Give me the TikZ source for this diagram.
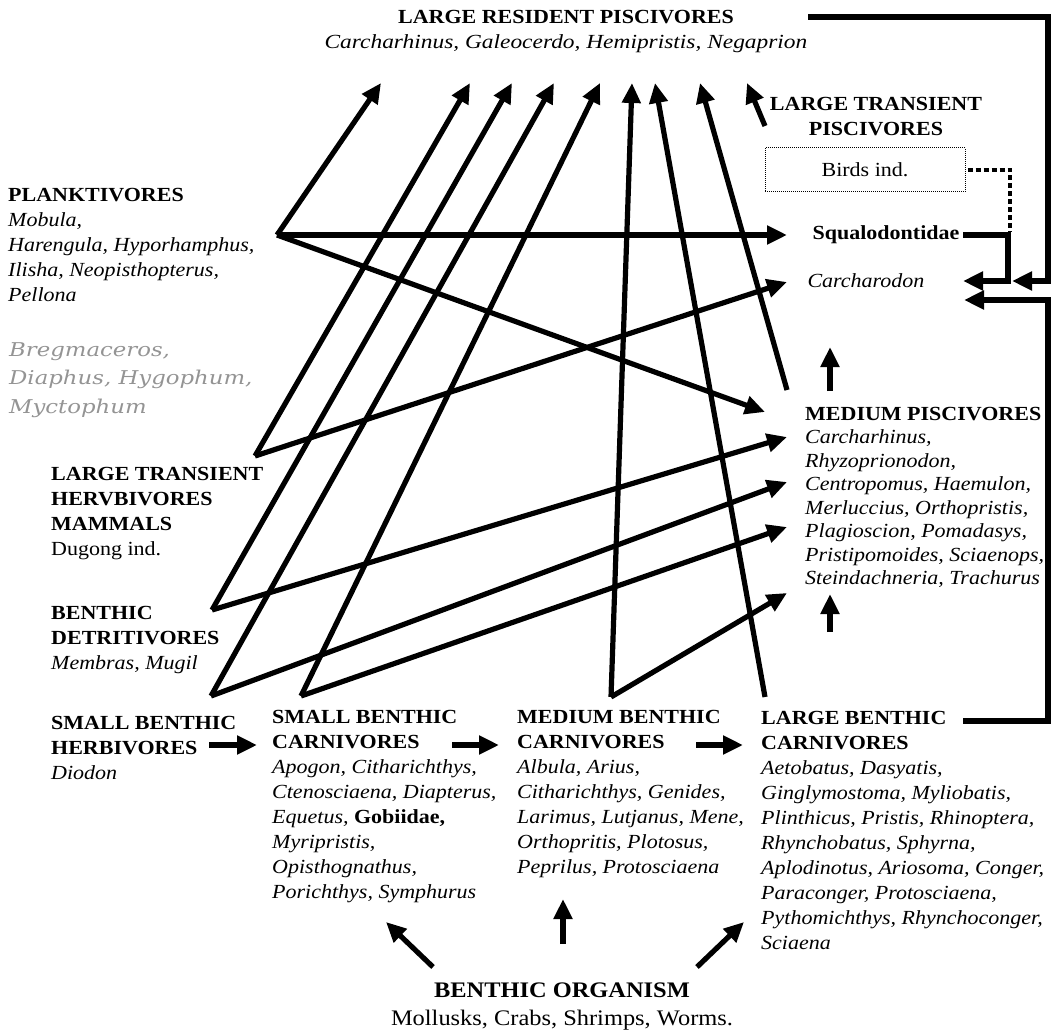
\documentclass[tikz,border=0pt]{standalone}
\usepackage{fontspec}
\setmainfont[FakeStretch=1.1]{Liberation Serif}
\newfontfamily\grayfont[FakeStretch=1.2]{DejaVu Serif}
\usetikzlibrary{arrows.meta}

\newcommand{\grpbf}[1]{{\bfseries #1}}
\newcommand{\taxa}[1]{{\itshape #1}}

\tikzset{
    grp/.style={anchor=north west, inner sep=0pt, align=left, font=\fontsize{20}{25}\selectfont},
    link/.style={line width=5.2pt, -{Triangle[length=20pt,width=18pt]}},
    bracket/.style={line width=5.2pt},
}

\begin{document}
\begin{tikzpicture}[x=1pt, y=-1pt]
    \useasboundingbox (0,0) rectangle (1054,1032);
    % Draw the top predators
    \node[grp, anchor=north, align=center] (lrp) at (566,10) {\grpbf{LARGE RESIDENT PISCIVORES}\\ {\addfontfeatures{FakeStretch=1.17}\taxa{Carcharhinus, Galeocerdo, Hemipristis, Negaprion}}};
    \node[grp, anchor=north, align=center] (ltp) at (876,97) {\grpbf{LARGE TRANSIENT}\\ \grpbf{PISCIVORES}};
    \node[draw, densely dotted, line width=1pt, minimum width=200pt, minimum height=44pt, font=\fontsize{20}{25}\selectfont] (birds) at (865,170) {Birds ind.};
    \node[grp, anchor=center] (squal) at (886,235) {\grpbf{Squalodontidae}};
    \node[grp, anchor=center] (carcharodon) at (866,281) {\taxa{Carcharodon}};
    % Draw the left column
    \node[grp] (plank) at (8,188) {\grpbf{PLANKTIVORES}\\ \taxa{Mobula,}\\ \taxa{Harengula, Hyporhamphus,}\\ \taxa{Ilisha, Neopisthopterus,}\\ \taxa{Pellona}};
    \node[grp, font=\grayfont\itshape\fontsize{19}{28.5}\selectfont, text=black!42] (myct) at (9,342) {Bregmaceros,\\ Diaphus, Hygophum,\\ Myctophum};
    \node[grp] (herbmam) at (51,467) {\grpbf{LARGE TRANSIENT}\\ \grpbf{HERVBIVORES}\\ \grpbf{MAMMALS}\\ Dugong ind.};
    \node[grp] (detr) at (51,606) {\grpbf{BENTHIC}\\ \grpbf{DETRITIVORES}\\ \taxa{Membras, Mugil}};
    \node[grp] (smherb) at (51,716) {\grpbf{SMALL BENTHIC}\\ \grpbf{HERBIVORES}\\ \taxa{Diodon}};
    % Draw the benthic carnivores
    \node[grp] (smcarn) at (272,710) {\grpbf{SMALL BENTHIC}\\ \grpbf{CARNIVORES}\\ \taxa{Apogon, Citharichthys,}\\ \taxa{Ctenosciaena, Diapterus,}\\ \taxa{Equetus,} \grpbf{Gobiidae,}\\ \taxa{Myripristis,}\\ \taxa{Opisthognathus,}\\ \taxa{Porichthys, Symphurus}};
    \node[grp] (medcarn) at (517,710) {\grpbf{MEDIUM BENTHIC}\\ \grpbf{CARNIVORES}\\ \taxa{Albula, Arius,}\\ \taxa{Citharichthys, Genides,}\\ \taxa{Larimus, Lutjanus, Mene,}\\ \taxa{Orthopritis, Plotosus,}\\ \taxa{Peprilus, Protosciaena}};
    \node[grp] (lgcarn) at (761,711) {\grpbf{LARGE BENTHIC}\\ \grpbf{CARNIVORES}\\ \taxa{Aetobatus, Dasyatis,}\\ \taxa{Ginglymostoma, Myliobatis,}\\ \taxa{Plinthicus, Pristis, Rhinoptera,}\\ \taxa{Rhynchobatus, Sphyrna,}\\ \taxa{Aplodinotus, Ariosoma, Conger,}\\ \taxa{Paraconger, Protosciaena,}\\ \taxa{Pythomichthys, Rhynchoconger,}\\ \taxa{Sciaena}};
    \node[grp, font=\fontsize{20}{23.5}\selectfont] (medpisc) at (805,407) {\grpbf{MEDIUM PISCIVORES}\\ \taxa{Carcharhinus,}\\ \taxa{Rhyzoprionodon,}\\ \taxa{Centropomus, Haemulon,}\\ \taxa{Merluccius, Orthopristis,}\\ \taxa{Plagioscion, Pomadasys,}\\ \taxa{Pristipomoides, Sciaenops,}\\ \taxa{Steindachneria, Trachurus}};
    \node[grp, anchor=north, align=center, font=\fontsize{22.2}{28}\selectfont] (benthos) at (562,983) {\grpbf{BENTHIC ORGANISM}\\ Mollusks, Crabs, Shrimps, Worms.};

    % Junction points of the arrows
    \coordinate (plank-j) at (277,235);
    \coordinate (herb-j) at (255,456);
    \coordinate (detr-j) at (212,610);
    \coordinate (smherb-j) at (211,696);
    \coordinate (smcarn-j) at (301,696);
    \coordinate (medcarn-j) at (611,697);
    \coordinate (lgcarn-j) at (765,697);
    \coordinate (medpisc-j) at (787,390);
    % Arrows up to the large resident piscivores
    \foreach \src/\x in {plank-j/381, herb-j/470, detr-j/512, smherb-j/554, smcarn-j/600, medcarn-j/632, lgcarn-j/655, medpisc-j/700} {
        \coordinate (lrp-\x) at (\x,83);
        \draw[link] (\src) -- (lrp-\x);
    }
    \coordinate (ltp-tail) at (765,126);
    \coordinate (ltp-tip) at (747,83);
    \draw[link] (ltp-tail) -- (ltp-tip);
    % Arrows to the medium piscivores
    \foreach \src/\x/\y in {plank-j/765/412, detr-j/787/437, smherb-j/787/482, smcarn-j/787/527, medcarn-j/787/593} {
        \coordinate (mp-\y) at (\x,\y);
        \draw[link] (\src) -- (mp-\y);
    }
    \coordinate (squal-tip) at (787,235);
    \coordinate (carch-tip) at (787,282);
    \draw[link] (plank-j) -- (squal-tip);
    \draw[link] (herb-j) -- (carch-tip);
    % Short vertical arrows
    \coordinate (mp-up1) at (830,391);
    \coordinate (mp-up2) at (830,347);
    \coordinate (lc-up1) at (830,632);
    \coordinate (lc-up2) at (830,594);
    \draw[link] (mp-up1) -- (mp-up2);
    \draw[link] (lc-up1) -- (lc-up2);
    % Chain of the benthic carnivores
    \coordinate (h1) at (209,745);
    \coordinate (h2) at (257,745);
    \coordinate (h3) at (452,745);
    \coordinate (h4) at (499,745);
    \coordinate (h5) at (696,745);
    \coordinate (h6) at (743,745);
    \draw[link] (h1) -- (h2);
    \draw[link] (h3) -- (h4);
    \draw[link] (h5) -- (h6);
    % Arrows out of the benthic organisms
    \coordinate (bo-a) at (433,967);
    \coordinate (bo-b) at (563,944);
    \coordinate (bo-c) at (697,967);
    \draw[link] (bo-a) -- (386,922);
    \draw[link] (bo-b) -- (563,899);
    \draw[link] (bo-c) -- (744,922);
    % Brackets on the right
    \draw[bracket, -{Triangle[length=20pt,width=18pt]}] (808,17) -- (1048,17) -- (1048,281) -- (1012,281);
    \draw[bracket, -{Triangle[length=20pt,width=18pt]}] (963,235) -- (1008,235) -- (1008,281) -- (963,281);
    \draw[bracket, -{Triangle[length=20pt,width=18pt]}] (963,721) -- (1048,721) -- (1048,300) -- (964,300);
    \draw[line width=4pt, dash pattern=on 5pt off 3pt] (birds.east) ++(2,0) -- (1010,170) -- (1010,232);
\end{tikzpicture}
\end{document}
